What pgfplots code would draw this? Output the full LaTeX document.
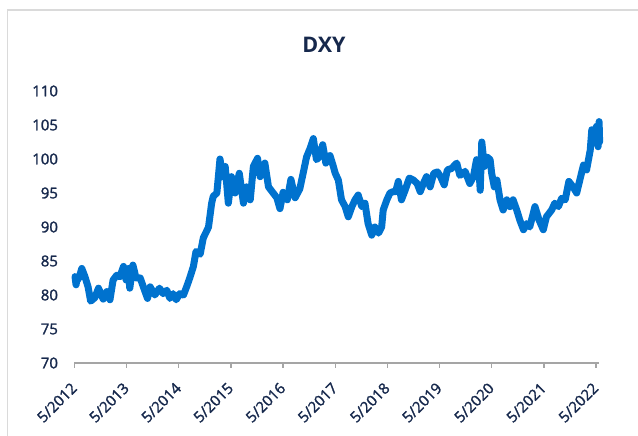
\documentclass[border=0pt]{standalone}
\usepackage{pgfplots}
\pgfplotsset{compat=1.18}
\usepackage{fontspec}
\setmainfont{Open Sans}
\newfontfamily\semib{Open Sans}[FakeBold=1.6]
\definecolor{dxyblue}{RGB}{0,114,206}
\definecolor{navy}{RGB}{22,40,76}
\definecolor{framegray}{RGB}{218,218,218}
\definecolor{axisgray}{RGB}{165,165,165}
\begin{document}
\begin{tikzpicture}[x=1pt,y=1pt]
\path[use as bounding box] (0,0) rectangle (638,436);
\draw[framegray, line width=1.5pt] (7.5,-20) -- (7.5,426) -- (700,426);
\node[font=\bfseries\fontsize{21.5}{26}\selectfont, text=navy] at (324,391) {DXY};
\begin{axis}[
  at={(74.5pt,73pt)}, anchor=south west,
  scale only axis, width=524.6pt, height=272pt,
  xmin=0, xmax=10.06, ymin=70, ymax=110,
  axis x line*=bottom, axis y line*=left,
  y axis line style={draw=none},
  x axis line style={draw=axisgray, line width=1.4pt},
  ytick={70,75,...,110},
  ytick style={draw=none},
  xtick={0,1,...,10},
  xticklabels={5/2012,5/2013,5/2014,5/2015,5/2016,5/2017,5/2018,5/2019,5/2020,5/2021,5/2022},
  tick align=outside,
  major tick length=5pt,
  xtick style={draw=axisgray, line width=1.4pt},
  /pgf/number format/assume math mode=true,
  ticklabel style={font=\semib\fontsize{15}{17}\selectfont, text=navy},
  yticklabel style={xshift=-8pt},
  xticklabel style={yshift=-15pt, xshift=2pt, rotate=45, anchor=east},
  clip=false,
]
\addplot[dxyblue, line width=7pt, line join=round, line cap=round] coordinates {
(0.01,82.7) (0.03,81.5) (0.04,82.0) (0.09,82.6) (0.14,83.9) (0.20,82.7) (0.26,81.2) (0.31,79.1)
(0.39,79.6) (0.46,81.0) (0.55,79.4) (0.62,80.5) (0.68,79.3) (0.74,82.2) (0.81,82.9)
(0.87,82.7) (0.94,84.2) (0.99,82.2) (1.03,83.9) (1.06,81.0) (1.12,84.4) (1.18,82.5)
(1.26,82.5) (1.32,81.2) (1.40,79.5) (1.45,81.2) (1.54,80.0) (1.63,81.0) (1.70,80.2)
(1.77,80.7) (1.83,79.5) (1.89,80.2) (1.95,79.3) (2.02,80.2) (2.09,80.0) (2.15,81.2)
(2.21,82.5) (2.28,84.2) (2.33,86.4) (2.41,86.0) (2.47,88.4) (2.54,89.5) (2.57,90.0)
(2.63,93.5) (2.66,94.5) (2.73,95.0) (2.79,100.0) (2.84,97.4) (2.89,98.9) (2.95,93.5)
(3.01,97.4) (3.08,95.0) (3.16,97.9) (3.24,93.5) (3.30,95.9) (3.37,94.0) (3.43,98.9)
(3.51,100.1) (3.56,97.4) (3.65,99.4) (3.72,95.9) (3.81,95.0) (3.88,94.3) (3.94,92.7)
(4.00,95.1) (4.08,94.0) (4.15,97.0) (4.23,94.3) (4.32,95.6) (4.39,98.1) (4.45,100.3)
(4.52,101.6) (4.58,103.0) (4.64,99.9) (4.69,100.3) (4.76,102.1) (4.82,99.4) (4.90,100.5)
(4.96,99.0) (5.00,97.9) (5.06,96.9) (5.12,94.0) (5.19,93.0) (5.25,91.5) (5.32,93.0)
(5.38,94.0) (5.44,94.7) (5.51,93.0) (5.57,93.5) (5.63,90.5) (5.70,88.8) (5.76,90.0)
(5.83,89.1) (5.89,90.0) (5.92,92.5) (5.99,94.0) (6.05,95.0) (6.11,95.2) (6.16,95.2)
(6.21,96.7) (6.27,94.0) (6.34,95.4) (6.42,97.2) (6.50,96.9) (6.57,96.4) (6.63,95.2)
(6.69,96.4) (6.75,97.4) (6.82,95.9) (6.89,97.9) (6.96,98.1) (7.02,97.4) (7.09,96.2)
(7.15,98.4) (7.23,98.6) (7.33,99.4) (7.39,97.6) (7.46,97.9) (7.49,98.2) (7.58,96.4)
(7.65,97.4) (7.71,99.9) (7.76,98.0) (7.78,95.4) (7.81,102.5) (7.86,98.9) (7.91,100.3)
(7.97,99.9) (8.00,97.9) (8.05,95.9) (8.10,96.9) (8.16,94.0) (8.22,92.5) (8.29,94.0)
(8.35,93.0) (8.41,94.0) (8.48,92.5) (8.54,91.0) (8.61,89.6) (8.67,90.5) (8.73,90.0)
(8.83,93.0) (8.91,91.0) (8.99,89.6) (9.05,91.5) (9.15,92.5) (9.21,93.5) (9.28,93.0)
(9.34,94.2) (9.41,94.0) (9.48,96.7) (9.56,95.9) (9.63,95.0) (9.69,96.9) (9.76,99.1)
(9.82,98.4) (9.89,101.3) (9.92,104.3) (9.97,103.3) (10.01,104.8) (10.04,101.8)
(10.06,105.5) (10.07,102.5)
};
\end{axis}
\end{tikzpicture}
\end{document}
